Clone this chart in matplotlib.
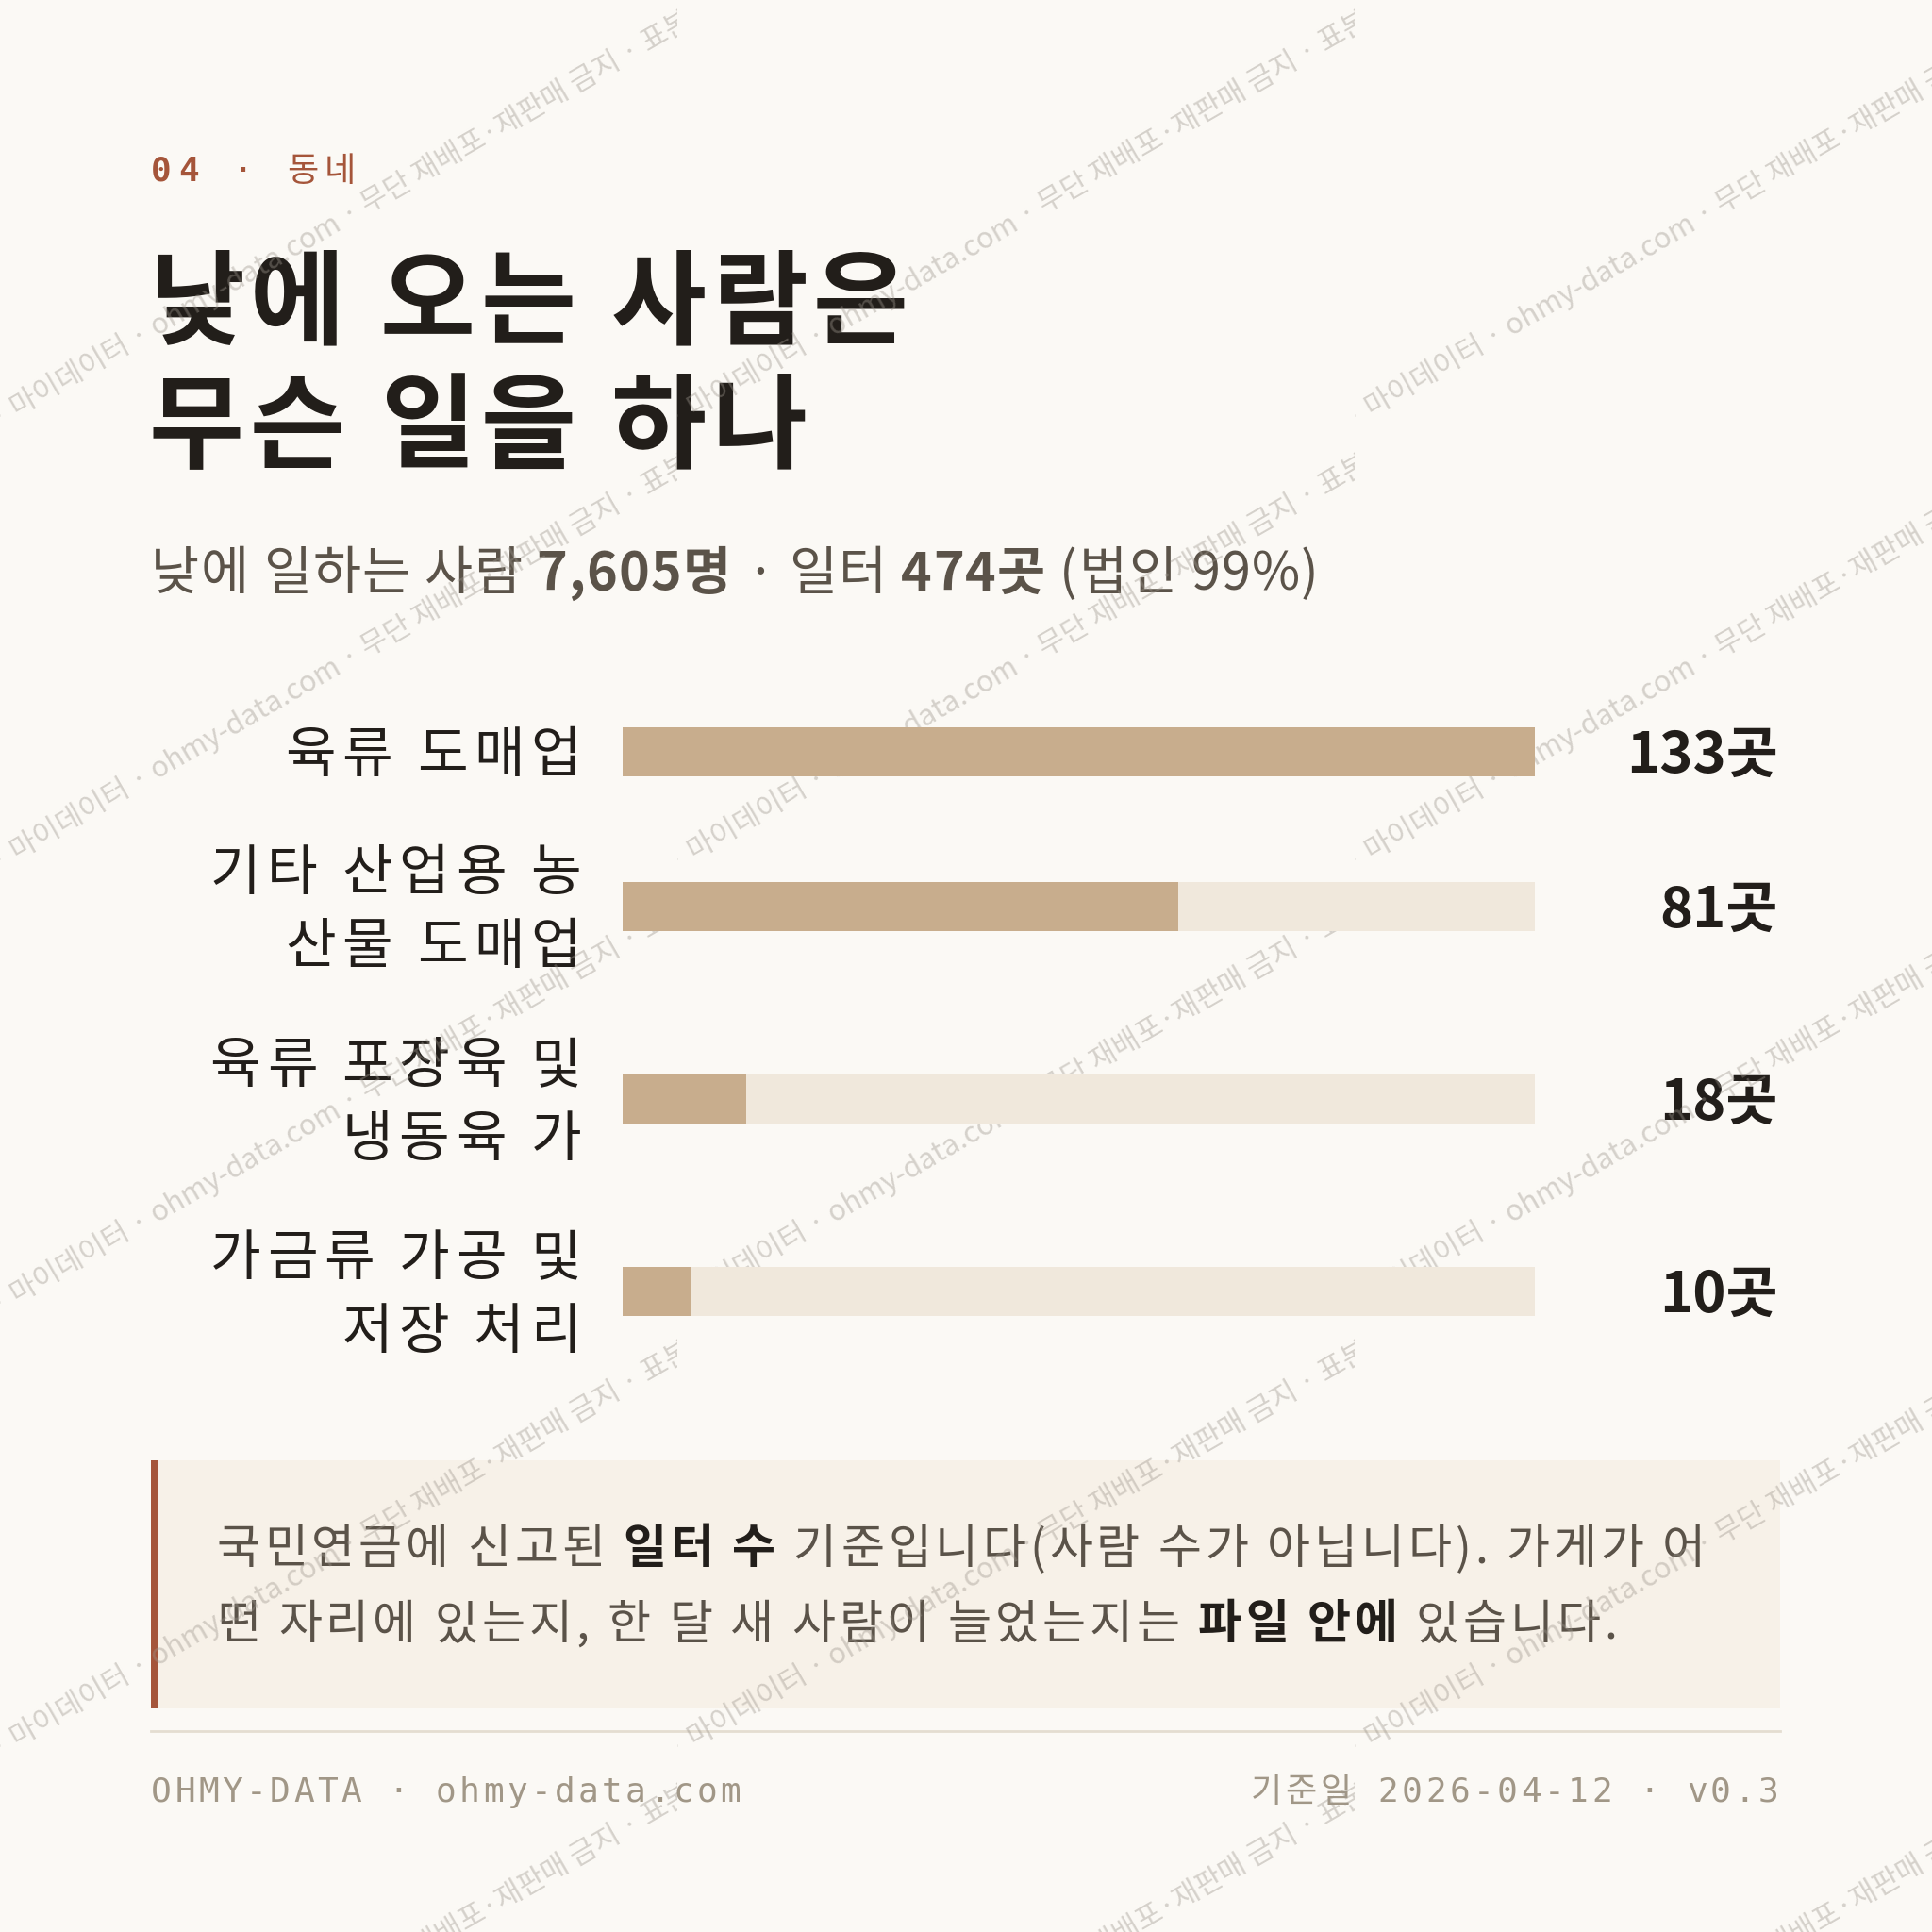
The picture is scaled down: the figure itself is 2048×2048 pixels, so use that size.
import matplotlib
matplotlib.use("Agg")
import matplotlib.pyplot as plt
from matplotlib.patches import Rectangle
from matplotlib.transforms import Bbox

KR = "Noto Sans CJK KR"
MONO = ["DejaVu Sans Mono", "Noto Sans CJK KR"]

BG = "#FBF9F5"
INK = "#221E1A"
MUTED = "#5B5349"
RUST = "#A5553A"
FILL = "#C8AD8D"
TRACK = "#F0E8DC"
NOTE_BG = "#F7F1E8"
RULE = "#E4DDD1"
FOOT = "#A19787"

# data
categories = ["육류 도매업", "기타 산업용 농\n산물 도매업", "육류 포장육 및\n냉동육 가", "가금류 가공 및\n저장 처리"]
counts = [133, 81, 18, 10]
unit = "곳"

kicker = [("04", "bold", RUST, MONO), (" · ", "normal", RUST, MONO), ("동네", "normal", RUST, [KR])]
title_lines = ["낮에 오는 사람은", "무슨 일을 하나"]
subtitle = [("낮에 일하는 사람 ", "normal"), ("7,605명", "bold"), (" · 일터 ", "normal"),
            ("474곳", "bold"), (" (법인 99%)", "normal")]
note_lines = [
    [("국민연금에 신고된 ", "normal"), ("일터 수", "bold"), (" 기준입니다(사람 수가 아닙니다). 가게가 어", "normal")],
    [("떤 자리에 있는지, 한 달 새 사람이 늘었는지는 ", "normal"), ("파일 안에", "bold"), (" 있습니다.", "normal")],
]
footer_left = "OHMY-DATA · ohmy-data.com"
footer_right = "기준일 2026-04-12 · v0.3"
watermark_a = "표본 · 마이데이터 · ohmy-data.com"
watermark_b = " · 무단 재배포·재판매 금지 · 표본 · 마이데이터"

W = H = 2048
fig = plt.figure(figsize=(20.48, 20.48), dpi=100, facecolor=BG)
page = fig.add_axes([0, 0, 1, 1])
page.set_xlim(0, W)
page.set_ylim(H, 0)
page.axis("off")
renderer = fig.canvas.get_renderer()


def px(size):
    return size * 100 / 72


def measure(s, size, weight, family):
    t = page.text(0, 0, "|" + s + "|", fontsize=size, fontweight=weight, family=family)
    u = page.text(0, 0, "||", fontsize=size, fontweight=weight, family=family)
    w = t.get_window_extent(renderer).width - u.get_window_extent(renderer).width
    t.remove()
    u.remove()
    return w


def runs(x, y, parts, size, track=0, align="left"):
    # parts: (text, weight, color, family); y is the text centre line
    pieces = []
    for text, weight, color, family in parts:
        chunks = list(text) if track else [text]
        for c in chunks:
            pieces.append((c, weight, color, family, measure(c, size, weight, family) + track))
    total = sum(p[4] for p in pieces) - track
    cx = x - total if align == "right" else x
    base = y + 0.36 * px(size)
    for c, weight, color, family, w in pieces:
        if c.strip():
            page.text(cx, base, c, fontsize=size, fontweight=weight, color=color,
                      family=family, va="baseline", ha="left")
        cx += w


# header
runs(160, 179, kicker, 26, track=7)
for i, line in enumerate(title_lines):
    runs(158, 317 + i * 131, [(line, "bold", INK, [KR])], 79, track=6)
runs(160, 605, [(t, w, MUTED, [KR]) for t, w in subtitle], 40, track=1.3)

# bars
lines = [c.count("\n") + 1 for c in categories]
heights = [124 + 80 * (n - 1) for n in lines]
centers = [797]
for i in range(1, len(categories)):
    centers.append(centers[-1] + (heights[i - 1] + heights[i]) / 2)

ax = fig.add_axes([660 / W, 0, 967 / W, 1])
ax.set_xlim(0, max(counts))
ax.set_ylim(H, 0)
ax.axis("off")
ax.barh(centers, [max(counts)] * len(counts), height=52, color=TRACK, linewidth=0)
ax.barh(centers, counts, height=52, color=FILL, linewidth=0)

for cat, c, v in zip(categories, centers, counts):
    parts = cat.split("\n")
    off = (len(parts) - 1) * 39
    for j, p in enumerate(parts):
        runs(616, c - off + j * 78, [(p, "normal", INK, [KR])], 42, track=6.5, align="right")
    runs(1885, c, [(f"{v}{unit}", "bold", INK, [KR])], 43, align="right")

# note box
page.add_patch(Rectangle((160, 1548), 1727, 263, color=NOTE_BG, lw=0))
page.add_patch(Rectangle((160, 1548), 8, 263, color=RUST, lw=0))
for i, line in enumerate(note_lines):
    runs(230, 1639 + i * 80, [(t, w, INK if w == "bold" else MUTED, [KR]) for t, w in line], 36, track=4)

# footer
page.plot([160, 1887], [1835, 1835], color=RULE, lw=2)
runs(160, 1897, [(footer_left, "normal", FOOT, MONO)], 26, track=3.4)
runs(1885, 1897, [(footer_right, "normal", FOOT, MONO)], 26, track=3.4, align="right")

# watermark tiles
tw, th = 718, 470
for tx in range(0, W, tw):
    for ty in range(0, H, th):
        clip = Bbox([[tx, H - ty - th], [tx + tw, H - ty]])
        cx, cy = tx + tw / 2, ty + th / 2
        for s, ha in ((watermark_a, "right"), (watermark_b, "left")):
            t = page.text(cx, cy, s, fontsize=22, color="#9C958C", alpha=0.4, family=[KR],
                          rotation=30, rotation_mode="anchor", ha=ha, va="center", zorder=10)
            t.set_clip_on(True)
            t.set_clip_path(None)
            t.set_clip_box(clip)

fig.savefig("out.png", dpi=100, facecolor=BG)
